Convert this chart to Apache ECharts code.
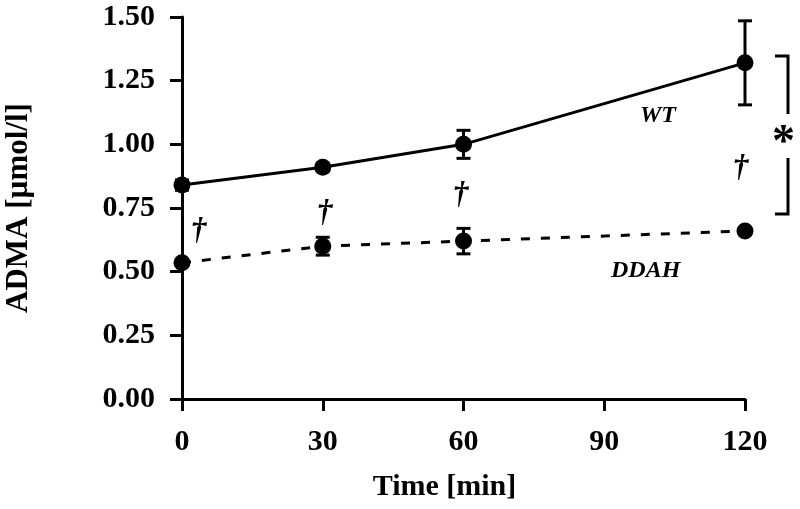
<!DOCTYPE html>
<html><head><meta charset="utf-8">
<script src="https://cdn.jsdelivr.net/npm/echarts@6/dist/echarts.min.js"></script>
<style>html,body{margin:0;padding:0;background:#fff}#c{width:800px;height:509px}</style>
</head><body><div id="c"></div>
<script>
const times = [0, 30, 60, 120];
const wtMean = [0.84, 0.91, 1.00, 1.32];
const wtErr = [0.02, 0.015, 0.055, 0.165];
const ddahMean = [0.535, 0.60, 0.62, 0.66];
const ddahErr = [0.01, 0.035, 0.05, 0.012];
const xTicks = [0, 30, 60, 90, 120];
const yTicks = [0, 0.25, 0.5, 0.75, 1.0, 1.25, 1.5];

const FONT = 'Liberation Serif';
const chart = echarts.init(document.getElementById('c'), null, {renderer: 'canvas'});

function errData(mean, err) {
  return times.map((t, i) => [t, mean[i] - err[i], mean[i] + err[i]]);
}
function errRender(params, api) {
  const x = api.value(0);
  const lo = api.coord([x, api.value(1)]);
  const hi = api.coord([x, api.value(2)]);
  const hw = 7;
  const st = {stroke: '#000', lineWidth: 3};
  return {type: 'group', children: [
    {type: 'line', shape: {x1: lo[0], y1: lo[1], x2: hi[0], y2: hi[1]}, style: st},
    {type: 'line', shape: {x1: lo[0]-hw, y1: lo[1], x2: lo[0]+hw, y2: lo[1]}, style: st},
    {type: 'line', shape: {x1: hi[0]-hw, y1: hi[1], x2: hi[0]+hw, y2: hi[1]}, style: st}
  ]};
}

const txt = {fontFamily: FONT, fontWeight: 'bold', fill: '#000'};
chart.setOption({
  animation: false,
  grid: {left: 182, right: 55, top: 17, bottom: 110, containLabel: false, outerBoundsMode: 'none'},
  xAxis: {
    type: 'value', min: 0, max: 120, interval: 30,
    axisLine: {lineStyle: {color: '#000', width: 3}},
    axisTick: {show: true, length: 12, lineStyle: {color: '#000', width: 3}},
    splitLine: {show: false},
    axisLabel: {color: '#000', fontFamily: FONT, fontWeight: 'bold', fontSize: 30, margin: 28,
      formatter: v => xTicks.includes(v) ? String(v) : ''},
    name: 'Time [min]', nameLocation: 'middle', nameGap: 73,
    nameTextStyle: {color: '#000', fontFamily: FONT, fontWeight: 'bold', fontSize: 30, padding: [0, 38, 0, 0]}
  },
  yAxis: {
    type: 'value', min: 0, max: 1.5, interval: 0.25,
    axisLine: {show: true, lineStyle: {color: '#000', width: 3}},
    axisTick: {show: true, length: 12, lineStyle: {color: '#000', width: 3}},
    splitLine: {show: false},
    axisLabel: {color: '#000', fontFamily: FONT, fontWeight: 'bold', fontSize: 30, margin: 27,
      formatter: v => yTicks.some(t => Math.abs(t - v) < 1e-9) ? v.toFixed(2) : ''},
    name: 'ADMA [µmol/l]', nameLocation: 'middle', nameGap: 148,
    nameTextStyle: {color: '#000', fontFamily: FONT, fontWeight: 'bold', fontSize: 31}
  },
  series: [
    {type: 'line', name: 'WT', data: times.map((t, i) => [t, wtMean[i]]),
      symbol: 'circle', symbolSize: 17, itemStyle: {color: '#000'},
      lineStyle: {color: '#000', width: 3}, z: 3},
    {type: 'line', name: 'DDAH', data: times.map((t, i) => [t, ddahMean[i]]),
      symbol: 'circle', symbolSize: 17, itemStyle: {color: '#000'},
      lineStyle: {color: '#000', width: 3, type: [9, 11]}, z: 3},
    {type: 'custom', renderItem: errRender, data: errData(wtMean, wtErr), encode: {x: 0, y: [1, 2]}, z: 2},
    {type: 'custom', renderItem: errRender, data: errData(ddahMean, ddahErr), encode: {x: 0, y: [1, 2]}, z: 2}
  ],
  graphic: [
    {type: 'text', left: 640, top: 104, style: Object.assign({text: 'WT', fontSize: 24, fontStyle: 'italic'}, txt)},
    {type: 'text', left: 611, top: 259, style: Object.assign({text: 'DDAH', fontSize: 24, fontStyle: 'italic'}, txt)},
    {type: 'text', left: 191, top: 215, style: Object.assign({text: '†', fontSize: 31, fontStyle: 'italic'}, txt)},
    {type: 'text', left: 317, top: 197, style: Object.assign({text: '†', fontSize: 31, fontStyle: 'italic'}, txt)},
    {type: 'text', left: 453, top: 179, style: Object.assign({text: '†', fontSize: 31, fontStyle: 'italic'}, txt)},
    {type: 'text', left: 733, top: 152, style: Object.assign({text: '†', fontSize: 31, fontStyle: 'italic'}, txt)},
    {type: 'polyline', shape: {points: [[775, 56], [788, 56], [788, 114]]}, style: {stroke: '#000', lineWidth: 3, fill: null}},
    {type: 'polyline', shape: {points: [[788, 158], [788, 214], [775, 214]]}, style: {stroke: '#000', lineWidth: 3, fill: null}},
    {type: 'text', left: 772, top: 121, style: Object.assign({text: '*', fontSize: 46}, txt)}
  ]
});
</script></body></html>
